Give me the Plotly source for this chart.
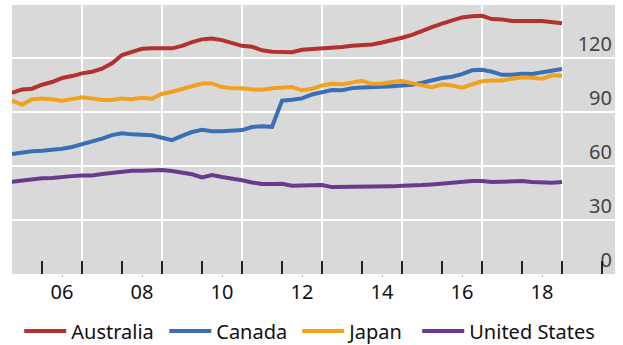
import plotly.graph_objects as go

# Quarterly observations, 2005 Q2 .. 2018 Q4 (x as fractional years)
start_year = 2005.25
australia = [100.7, 102.6, 103.0, 105.2, 106.7, 108.9, 110.0, 111.5, 112.4, 114.1,
             117.1, 121.7, 123.5, 125.2, 125.4, 125.4, 125.4, 126.8, 128.9, 130.4,
             130.9, 130.0, 128.2, 126.8, 126.3, 124.3, 123.5, 123.3, 123.3, 124.6,
             125.0, 125.2, 125.4, 126.1, 126.8, 127.2, 127.6, 128.7, 129.8, 131.3,
             132.9, 135.2, 137.2, 139.1, 140.7, 142.6, 143.3, 143.5, 141.7, 141.5,
             140.6, 140.4, 140.6, 140.6, 140.2, 139.4]
canada = [66.7, 67.6, 68.2, 68.5, 68.9, 69.6, 70.6, 72.1, 73.3, 75.2,
          77.2, 78.2, 77.6, 77.4, 77.1, 75.7, 74.4, 76.8, 78.9, 80.2,
          79.3, 79.3, 79.4, 80.0, 81.7, 82.1, 81.8, 96.3, 96.8, 97.6,
          99.8, 101.1, 102.2, 102.1, 103.3, 103.7, 103.7, 104.1, 104.4, 104.6,
          105.2, 106.3, 107.6, 108.9, 109.6, 111.1, 113.2, 113.5, 112.4, 110.7,
          110.7, 111.3, 111.1, 112.2, 112.8, 113.9]
japan = [96.3, 94.1, 97.1, 97.6, 97.1, 96.3, 97.2, 98.2, 97.6, 96.7,
         96.7, 97.6, 97.1, 97.9, 97.4, 100.2, 101.3, 102.9, 104.3, 105.9,
         105.9, 103.9, 103.2, 103.2, 102.6, 102.4, 103.2, 103.7, 103.9, 102.1,
         102.9, 104.8, 105.7, 105.4, 106.3, 107.4, 105.7, 105.7, 106.7, 107.2,
         106.1, 105.0, 103.7, 105.4, 104.8, 103.5, 105.4, 107.1, 107.6, 107.6,
         108.5, 109.3, 109.1, 108.5, 110.4, 110.2]
united_states = [51.3, 52.1, 52.8, 53.2, 53.3, 54.1, 54.4, 54.8, 54.8, 55.6,
                 56.3, 57.1, 57.4, 57.4, 57.6, 57.8, 57.2, 56.3, 55.4, 53.7,
                 55.0, 53.9, 53.2, 52.1, 50.9, 50.0, 50.0, 50.2, 49.1, 49.1,
                 48.9, 49.4, 48.3, 48.3, 48.3, 48.3, 48.2, 48.7, 48.7, 49.1,
                 49.1, 49.4, 49.8, 50.4, 50.7, 51.1, 51.7, 51.7, 51.1, 51.3,
                 51.3, 51.7, 51.1, 50.9, 50.7, 51.1]

series_names = ["Australia", "Canada", "Japan", "United States"]
series_colors = ["#B5312F", "#3A6FB5", "#F0A21F", "#673C8E"]
legend_widths = [88, 76, 63, 130]

x_tick_vals = [2006.5, 2008.5, 2010.5, 2012.5, 2014.5, 2016.5, 2018.5]
x_tick_text = ["06", "08", "10", "12", "14", "16", "18"]
y_tick_vals = [0, 30, 60, 90, 120]

x = [start_year + 0.25 * i for i in range(len(australia))]
x_range = [2005.25, 2020.325]
y_range = [0, 149.5]

fig = go.Figure()
# empty helper traces so the grid axis (x2) and label axis (y2) are drawn
fig.add_trace(go.Scatter(x=[], y=[], xaxis="x2", yaxis="y", showlegend=False, hoverinfo="skip"))
fig.add_trace(go.Scatter(x=[], y=[], xaxis="x", yaxis="y2", showlegend=False, hoverinfo="skip"))
for name, vals, col, lw in zip(series_names, [australia, canada, japan, united_states],
                               series_colors, legend_widths):
    fig.add_trace(go.Scatter(x=x, y=vals, mode="lines", name=name, legendwidth=lw,
                             line=dict(color=col, width=4)))

font_family = "Noto Sans"
fig.update_layout(
    width=623, height=345,
    margin=dict(l=12, r=8, t=5, b=71, autoexpand=False),
    paper_bgcolor="white",
    plot_bgcolor="#D9D9D9",
    font=dict(family=font_family, size=20, color="#111111"),
    showlegend=True,
    legend=dict(orientation="h", x=0.012, xanchor="left", y=-0.212, yanchor="middle",
                font=dict(size=20), itemwidth=42, tracegroupgap=0,
                bgcolor="rgba(0,0,0,0)"),
    # labels centred within the years
    xaxis=dict(range=x_range, tickmode="array", tickvals=x_tick_vals, ticktext=x_tick_text,
               showgrid=False, zeroline=False, ticks="outside", ticklen=2,
               tickcolor="#BBBBBB", ticklabelstandoff=-2),
    # grid every other year + yearly inside ticks
    xaxis2=dict(range=x_range, overlaying="x", anchor="y", side="bottom",
                tickmode="linear", tick0=2007, dtick=2,
                showgrid=True, gridcolor="white", gridwidth=1.5,
                showticklabels=False, zeroline=False,
                ticks="inside", ticklen=13, tickcolor="#222222", tickwidth=1.5,
                minor=dict(tickmode="linear", tick0=2006, dtick=1, ticks="inside",
                           ticklen=13, tickcolor="#222222", tickwidth=1.5, showgrid=False)),
    # horizontal grid
    yaxis=dict(range=y_range, side="right", tickmode="array", tickvals=y_tick_vals,
               showticklabels=False, showgrid=True, gridcolor="white",
               gridwidth=1.5, zeroline=False, ticks="", showline=False),
    # value labels sitting just above the grid lines, inside the plot
    yaxis2=dict(range=y_range, overlaying="y", anchor="x", side="right",
                tickmode="array", tickvals=y_tick_vals,
                ticklabelposition="inside top", ticklabelstandoff=0,
                showgrid=False, zeroline=False, ticks="", showline=False),
)
fig.write_html("out.html", config={"displayModeBar": False},
               post_script="document.body.style.margin='0';")
